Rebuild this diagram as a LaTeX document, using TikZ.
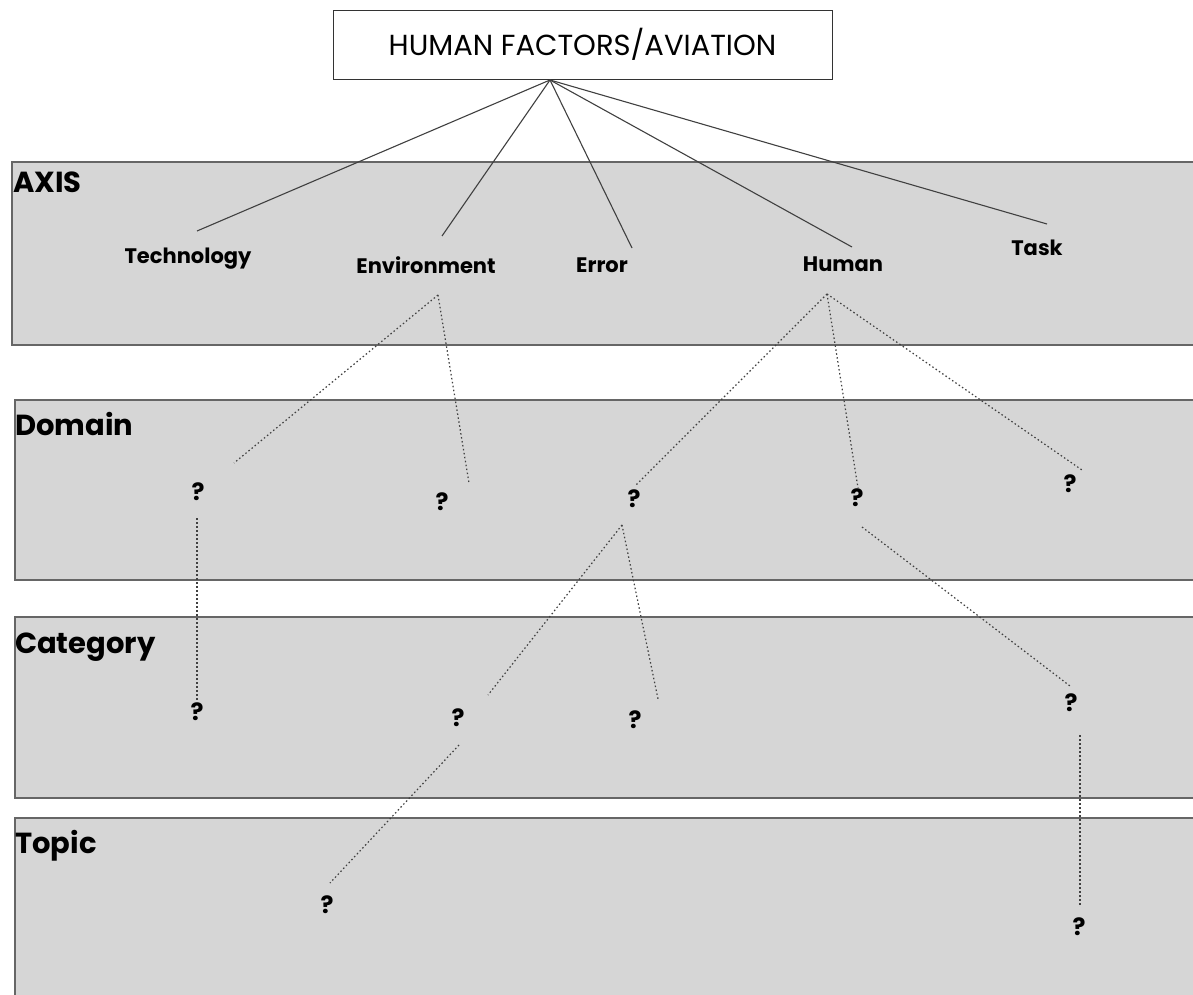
\documentclass[tikz,border=0pt]{standalone}
\usepackage{fontspec}
\setmainfont{Poppins}
\usetikzlibrary{positioning}
\tikzset{
  band/.style={draw=black!60, line width=1.5pt, fill=black!16},
  bandlabel/.style={anchor=base west, inner sep=0pt, font=\bfseries\fontsize{29}{29}\selectfont},
  axislabel/.style={anchor=base, inner sep=0pt, font=\bfseries\fontsize{21}{21}\selectfont},
  qmark/.style={inner sep=0pt, font=\bfseries\fontsize{24}{24}\selectfont},
  branch/.style={draw=black!75, line width=1.1pt},
  link/.style={draw=black!75, line width=1.2pt, dash pattern=on 1.5pt off 2.5pt},
}
\begin{document}
\begin{tikzpicture}[x=1pt,y=-1pt]
\useasboundingbox (0,0) rectangle (1193,995);
\clip (0,0) rectangle (1193,995);
% bands
\draw[band] (12,162) rectangle (1210,345);
\draw[band] (15,400) rectangle (1210,580);
\draw[band] (15,617) rectangle (1210,798);
\draw[band] (15,818) rectangle (1210,1010);
\node[bandlabel] (axis) at (13,193) {AXIS};
\node[bandlabel] (domain) at (15,435) {Domain};
\node[bandlabel] (category) at (15,653) {Category};
\node[bandlabel] (topic) at (15,853) {Topic};

% nodes
\node[draw=black!80, line width=0.8pt, fill=white, minimum width=499, minimum height=69,
  font=\fontsize{29}{29}\selectfont] (top) at (582.5,44.5) {HUMAN FACTORS/AVIATION};
\coordinate (hub) at (550,80);
\node[axislabel] (tech) at (188,263) {Technology};
\node[axislabel] (env) at (426,273) {Environment};
\node[axislabel] (err) at (602,272) {Error};
\node[axislabel] (hum) at (843,271) {Human};
\node[axislabel] (task) at (1037,255) {Task};

\node[qmark] (d1) at (198,492) {?};
\node[qmark] (d2) at (442,502) {?};
\node[qmark] (d3) at (634,499) {?};
\node[qmark] (d4) at (857,498) {?};
\node[qmark] (d5) at (1070,484) {?};
\node[qmark] (c1) at (197,712) {?};
\node[qmark] (c2) at (458,718) {?};
\node[qmark] (c3) at (635,720) {?};
\node[qmark] (c4) at (1071,703) {?};
\node[qmark] (t1) at (327,905) {?};
\node[qmark] (t2) at (1079,927) {?};

% line ends
\coordinate (techtip) at (197,231);
\coordinate (envtip) at (442,236);
\coordinate (errtip) at (632,248);
\coordinate (humtip) at (852,247);
\coordinate (tasktip) at (1047,224);
\coordinate (envroot) at (438,295);
\coordinate (humroot) at (827,294);
\coordinate (d1root) at (197,518);
\coordinate (d3root) at (622,525);
\coordinate (d4root) at (862,527);
\coordinate (c2root) at (459,745);
\coordinate (c4root) at (1080,735);
\coordinate (d1tip) at (234,463);
\coordinate (d2tip) at (469,483);
\coordinate (d3tip) at (636,485);
\coordinate (d4tip) at (858,488);
\coordinate (d5tip) at (1082,470);
\coordinate (c1tip) at (197,700);
\coordinate (c2tip) at (488,695);
\coordinate (c3tip) at (658,699);
\coordinate (c4tip) at (1070,686);
\coordinate (t1tip) at (330,883);
\coordinate (t2tip) at (1080,905);

% edges
\foreach \t in {techtip,envtip,errtip,humtip,tasktip}
  \draw[branch] (hub) -- (\t);
\draw[link] (envroot) -- (d1tip);
\draw[link] (envroot) -- (d2tip);
\draw[link] (humroot) -- (d3tip);
\draw[link] (humroot) -- (d4tip);
\draw[link] (humroot) -- (d5tip);
\draw[link] (d1root) -- (c1tip);
\draw[link] (d3root) -- (c2tip);
\draw[link] (d3root) -- (c3tip);
\draw[link] (d4root) -- (c4tip);
\draw[link] (c2root) -- (t1tip);
\draw[link] (c4root) -- (t2tip);
\end{tikzpicture}
\end{document}
